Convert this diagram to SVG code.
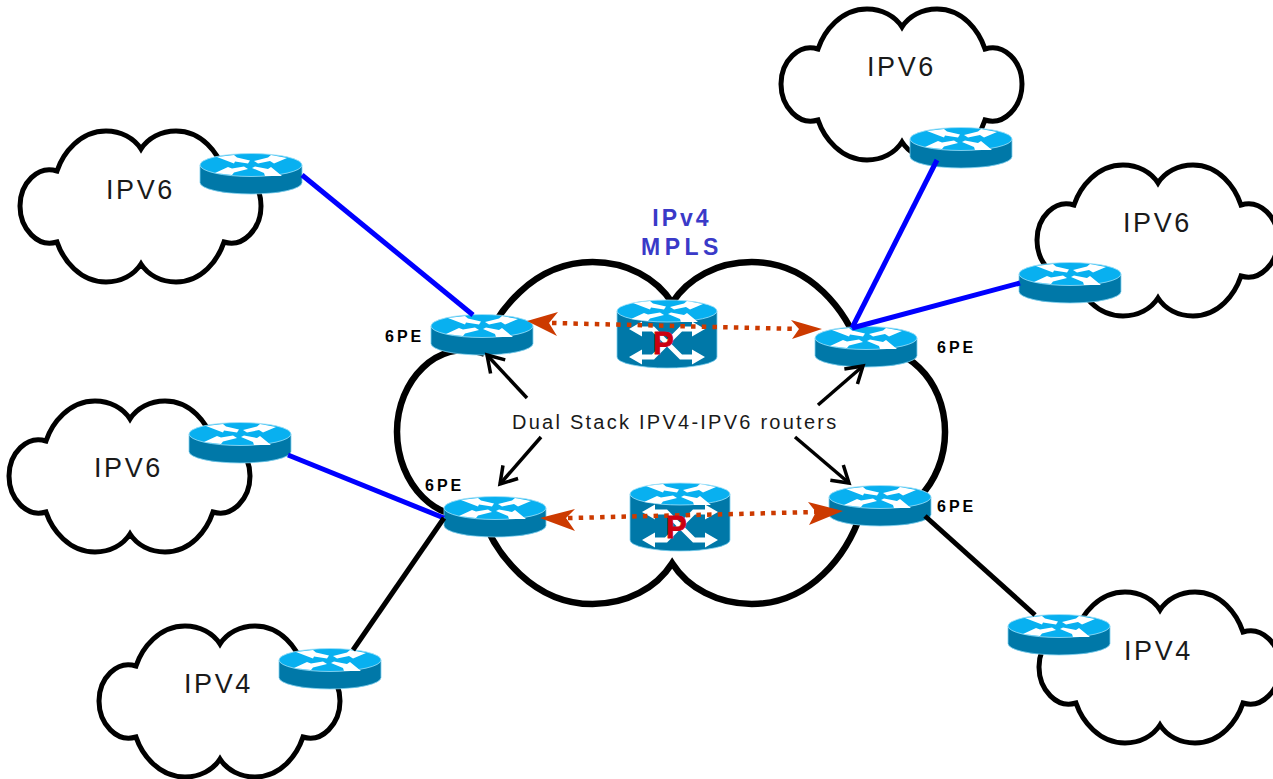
<svg xmlns="http://www.w3.org/2000/svg" width="1273" height="779" viewBox="0 0 1273 779">
<style>
text{font-family:"Liberation Sans",Arial,sans-serif}
.cloud{fill:#fff;stroke:#000;stroke-width:5;stroke-linejoin:miter}
.core{stroke-width:6.5;vector-effect:non-scaling-stroke}
.net{font-size:27px;letter-spacing:2.6px;fill:#1a1a1a}
.pe{font-size:16px;font-weight:bold;letter-spacing:3px;fill:#000}
.blue{stroke:#0000ff;stroke-width:5;fill:none}
.black{stroke:#000;stroke-width:5;fill:none}
.call{stroke:#000;stroke-width:3.5;fill:none;marker-end:url(#open)}
.dot{stroke:#cc3a00;stroke-width:4.5;fill:none;stroke-dasharray:4.5 6.2}
.body{fill:#0078a8;stroke:#7fd0f0;stroke-width:.8}
.top{fill:#08b0f0;stroke:#a0e0f8;stroke-width:.8}
.ar{fill:#fff}
.p{font-size:31px;font-weight:bold;fill:#cc0010;stroke:#cc0010;stroke-width:.8}
</style>
<defs>
<path id="cl" d="M37,40C43,22 60,0 86,0C101,0 114,7 121,18C128,7 141,0 156,0C182,0 198,22 204,40C223,34 241,52 241,75C241,98 223,117 204,111C198,129 182,151 156,151C141,151 128,144 121,133C114,144 101,151 86,151C60,151 43,129 37,111C18,117 0,98 0,75C0,52 18,34 37,40Z"/>
<g id="face">
<polygon class="ar" points="-34,-8 -17,-10 -14,-7.5 -1,-4.5 -3,-1.5 -16,-3.5 -17,-1.5"/>
<polygon class="ar" points="36,-7 20,-10 17,-7.5 3,-4 7,-1.5 19,-4 23,-1.5"/>
<polygon class="ar" points="-36,8 -19,10 -17,7.5 -3,4 -7,1.5 -19,3.5 -23,2"/>
<polygon class="ar" points="31,11 14,11 13,8 1,3 4,1.5 17,4 20,2"/>
</g>
<g id="router">
<path class="body" d="M-51,0V17.5A51,11.5 0 0 0 51,17.5V0Z"/>
<ellipse class="top" cx="0" cy="0" rx="51" ry="11.5"/>
<use href="#face"/>
</g>
<g id="prouter">
<path class="body" d="M-50,0V46A50,11 0 0 0 50,46V0Z"/>
<ellipse class="top" cx="0" cy="0" rx="50" ry="11"/>
<use href="#face"/>
<path d="M-28,18H-14L14,46H28M28,18H14L-14,46H-28" fill="none" stroke="#fff" stroke-width="5"/>
<path class="ar" d="M-38,18L-25,10.5V25.5ZM38,18L25,10.5V25.5ZM-38,46L-25,38.5V53.5ZM38,46L25,38.5V53.5Z"/>
</g>
<marker id="open" markerUnits="userSpaceOnUse" markerWidth="26" markerHeight="26" refX="21" refY="12" orient="auto">
<path d="M5,2L21,12L5,22" fill="none" stroke="#000" stroke-width="3.5"/>
</marker>
</defs>
<g id="cloud-core"><path d="M37,40C43,22 60,0 86,0C101,0 114,7 121,18C128,7 141,0 156,0C182,0 198,22 204,40C223,34 241,52 241,75C241,98 223,117 204,111C198,129 182,151 156,151C141,151 128,144 121,133C114,144 101,151 86,151C60,151 43,129 37,111C18,117 0,98 0,75C0,52 18,34 37,40Z" class="cloud core" transform="translate(397,262) scale(2.274,2.265)"/></g>
<g id="cloud-a"><use href="#cl" class="cloud" transform="translate(781,9)"/><text class="net" x="867" y="76">IPV6</text></g>
<g id="cloud-b"><use href="#cl" class="cloud" transform="translate(20,131)"/><text class="net" x="106" y="199">IPV6</text></g>
<g id="cloud-c"><use href="#cl" class="cloud" transform="translate(1037,165)"/><text class="net" x="1123" y="232">IPV6</text></g>
<g id="cloud-d"><use href="#cl" class="cloud" transform="translate(9,401)"/><text class="net" x="94" y="477">IPV6</text></g>
<g id="cloud-e"><use href="#cl" class="cloud" transform="translate(99,626)"/><text class="net" x="184" y="693">IPV4</text></g>
<g id="cloud-f"><use href="#cl" class="cloud" transform="translate(1039,592)"/><text class="net" x="1124" y="660">IPV4</text></g>
<g id="r1"><use href="#router" x="251" y="165"/></g>
<g id="r2"><use href="#router" x="961" y="139"/></g>
<g id="r3"><use href="#router" x="1070" y="274"/></g>
<g id="r4"><use href="#router" x="482" y="326"/><text class="pe" x="385" y="342">6PE</text></g>
<g id="r5"><use href="#router" x="866" y="338"/><text class="pe" x="937" y="353">6PE</text></g>
<g id="r6"><use href="#router" x="240" y="434"/></g>
<g id="r7"><use href="#router" x="495" y="508"/><text class="pe" x="425" y="491">6PE</text></g>
<g id="r8"><use href="#router" x="880" y="497"/><text class="pe" x="937" y="512">6PE</text></g>
<g id="r9"><use href="#router" x="330" y="660"/></g>
<g id="r10"><use href="#router" x="1059" y="626"/></g>
<g id="p1"><use href="#prouter" x="667" y="311"/></g>
<g id="p2"><use href="#prouter" x="680" y="494"/></g>
<g id="connectors">
<path class="blue" d="M302,175L473,315"/>
<path class="blue" d="M937,160L852,328"/>
<path class="blue" d="M1020,283L852,328"/>
<path class="blue" d="M288,455L444,518"/>
<path class="black" d="M444,518L353,650"/>
<path class="black" d="M925,516L1035,615"/>
<path class="call" d="M527,398L487,355"/>
<path class="call" d="M818,405L863,366"/>
<path class="call" d="M541,437L500,484"/>
<path class="call" d="M795,437L849,483"/>
<path class="dot" d="M552,323L798,329"/>
<path class="dot" d="M568,518L818,512"/>
<path d="M527,321L558,312L549,323L557,336Z" fill="#cc3a00"/>
<path d="M822,329L791,320L799,329L792,339Z" fill="#cc3a00"/>
<path d="M540,518L575,509L566,518L575,531Z" fill="#cc3a00"/>
<path d="M843,511L808,502L816,512L809,525Z" fill="#cc3a00"/>
</g>
<text class="p" x="653" y="354">P</text>
<text class="p" x="666" y="538">P</text>
<g id="labels">
<text x="682" y="226" text-anchor="middle" font-size="23" font-weight="bold" letter-spacing="3" fill="#3a3ac8">IPv4</text>
<text x="682" y="255" text-anchor="middle" font-size="23" font-weight="bold" letter-spacing="4.5" fill="#3a3ac8">MPLS</text>
<text x="512" y="429" font-size="20" letter-spacing="2.25" fill="#1a1a1a">Dual Stack IPV4-IPV6 routers</text>
</g>
</svg>
